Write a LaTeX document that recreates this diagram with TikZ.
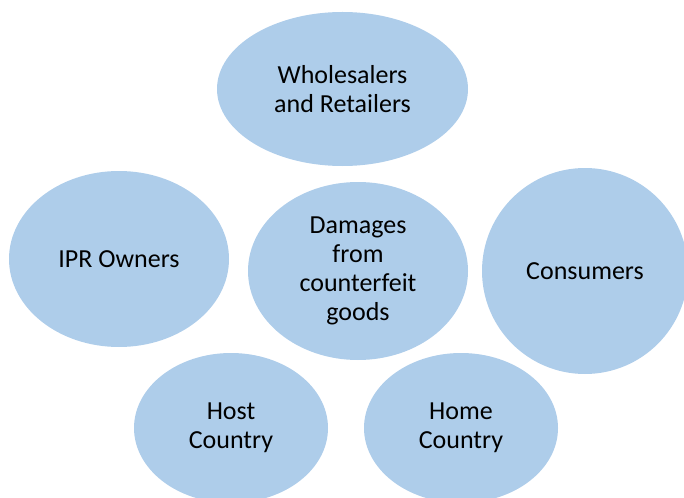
\documentclass[tikz,border=0pt]{standalone}
\usepackage{fontspec}
\setmainfont{Carlito}
\usetikzlibrary{shapes.geometric}
\definecolor{bubble}{RGB}{174,205,234}
\begin{document}
\begin{tikzpicture}[x=1pt,y=-1pt,
  bub/.style={ellipse,fill=bubble,draw=none,inner sep=0pt,align=center,
    font=\fontsize{26}{29}\selectfont,text=black}]
\useasboundingbox (0,0) rectangle (684,497);
\clip (0,0) rectangle (684,497);
\node[bub,minimum width=251pt,minimum height=154pt] (wr) at (342.5,89) {Wholesalers\\and Retailers};
\node[bub,minimum width=220pt,minimum height=176pt] (ipr) at (119,259) {IPR Owners};
\node[bub,minimum width=220pt,minimum height=178pt] (dmg) at (358,271) {Damages\\from\\counterfeit\\goods};
\node[bub,minimum width=206pt,minimum height=206pt] (con) at (585,271) {Consumers};
\node[bub,minimum width=194pt,minimum height=150pt] (host) at (231,428) {Host\\Country};
\node[bub,minimum width=194pt,minimum height=150pt] (home) at (461,428) {Home\\Country};
\end{tikzpicture}
\end{document}
